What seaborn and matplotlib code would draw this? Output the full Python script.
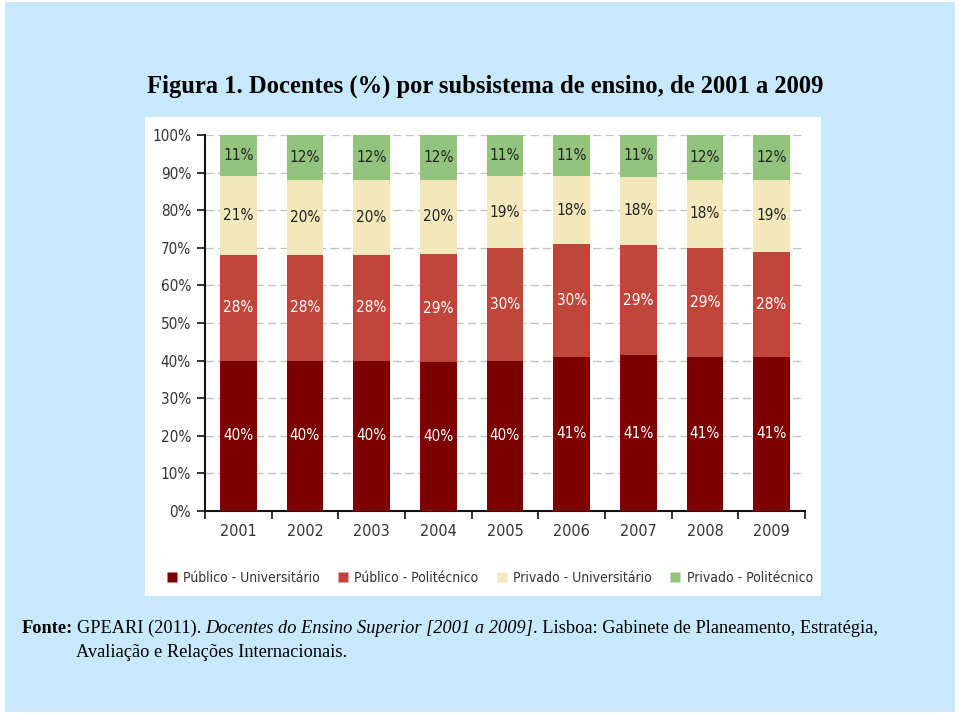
import numpy as np
import pandas as pd
import matplotlib
matplotlib.use("Agg")
import matplotlib.pyplot as plt
from matplotlib.patches import Rectangle
from matplotlib.lines import Line2D
import seaborn as sns

# ---- data ----
years = ["2001", "2002", "2003", "2004", "2005", "2006", "2007", "2008", "2009"]
series_names = ["Público - Universitário", "Público - Politécnico",
                "Privado - Universitário", "Privado - Politécnico"]
publico_univ = [40, 40, 40, 40, 40, 41, 41, 41, 41]
publico_poli = [28, 28, 28, 29, 30, 30, 29, 29, 28]
privado_univ = [21, 20, 20, 20, 19, 18, 18, 18, 19]
privado_poli = [11, 12, 12, 12, 11, 11, 11, 12, 12]
yticks = [0, 10, 20, 30, 40, 50, 60, 70, 80, 90, 100]

colors = ["#7d0000", "#c0463b", "#f3e8bc", "#93c47d"]
label_colors = ["white", "white", "#222222", "#222222"]

sns.set_theme(style="white")
plt.rcParams["font.family"] = ["DejaVu Sans"]

W, H = 960, 716
fig = plt.figure(figsize=(W / 100, H / 100), dpi=100)
fig.patch.set_facecolor("white")

def px(x, y):
    return x / W, 1 - y / H

# light blue slide background
fig.patches.append(Rectangle(px(5, 712), 950 / W, 710 / H, transform=fig.transFigure,
                             facecolor="#c8e9fc", edgecolor="none", zorder=-20))
# white chart panel
fig.patches.append(Rectangle(px(145, 596), 676 / W, 479 / H, transform=fig.transFigure,
                             facecolor="white", edgecolor="none", zorder=-10))

# axes
x0, x1 = 205, 805
ytop, ybot = 135, 511
ax = fig.add_axes([x0 / W, 1 - ybot / H, (x1 - x0) / W, (ybot - ytop) / H])
ax.set_facecolor("none")

vals = np.array([publico_univ, publico_poli, privado_univ, privado_poli], dtype=float)
shares = vals / vals.sum(axis=0) * 100
cum = np.cumsum(shares, axis=0)

# draw from total down so the segments stack
for i in range(3, -1, -1):
    df = pd.DataFrame({"ano": years, "valor": cum[i]})
    sns.barplot(data=df, x="ano", y="valor", color=colors[i], saturation=1,
                width=0.55, ax=ax, zorder=3, edgecolor="none")

# segment labels
for i in range(4):
    for j in range(len(years)):
        bottom = cum[i][j] - shares[i][j]
        ax.text(j, bottom + shares[i][j] / 2, f"{vals[i][j]:.0f}%",
                ha="center", va="center", fontsize=11, color=label_colors[i],
                fontstretch="condensed", zorder=5)

ax.set_xlim(-0.5, len(years) - 0.5)
ax.set_ylim(0, 100)
ax.set_yticks(yticks)
ax.set_yticklabels([f"{v}%" for v in yticks], fontsize=11, color="#333333",
                   fontstretch="condensed")
ax.set_xticks(range(len(years)))
ax.set_xticklabels(years, fontsize=11.5, color="#333333", fontstretch="condensed")
ax.tick_params(axis="x", which="major", length=0, pad=9)
ax.set_xticks(np.arange(-0.5, len(years), 1.0), minor=True)
ax.tick_params(axis="x", which="minor", length=6, width=1.2, color="#111111",
               direction="out", bottom=True)
ax.tick_params(axis="y", which="major", length=6, width=1.2, color="#111111",
               direction="out", left=True, pad=4)
ax.set_xlabel("")
ax.set_ylabel("")
ax.yaxis.grid(True, linestyle=(0, (6, 3)), color="#c4c4c4", linewidth=1.0, zorder=0)
ax.set_axisbelow(True)
for s in ["top", "right"]:
    ax.spines[s].set_visible(False)
for s in ["left", "bottom"]:
    ax.spines[s].set_color("#111111")
    ax.spines[s].set_linewidth(1.5)

# legend
handles = [Line2D([0], [0], marker="s", linestyle="none", markersize=7,
                  markerfacecolor=c, markeredgecolor="none") for c in colors]
fig.legend(handles, series_names, loc="center", bbox_to_anchor=(488 / W, 1 - 578 / H),
           ncol=4, frameon=False, handletextpad=0.2, columnspacing=1.1,
           handlelength=1.2, labelcolor="#333333",
           prop={"size": 10, "stretch": "condensed"})

# title
fig.text(147 / W, 1 - 93 / H, "Figura 1. Docentes (%) por subsistema de ensino, de 2001 a 2009",
         fontsize=17.7, fontweight="bold", family="Liberation Serif", ha="left",
         va="baseline", color="black")

# footer with mixed styles
fig.canvas.draw()
renderer = fig.canvas.get_renderer()

def place(parts, x_px, y_px, size=13.2):
    x = x_px
    for s, kw, gap in parts:
        t = fig.text(x / W, 1 - y_px / H, s, family="Liberation Serif", fontsize=size,
                     va="baseline", ha="left", color="black", **kw)
        bb = t.get_window_extent(renderer)
        x += bb.width + gap

place([("Fonte:", {"fontweight": "bold"}, 4),
       ("GPEARI (2011).", {}, 4),
       ("Docentes do Ensino Superior [2001 a 2009]", {"style": "italic"}, 0),
       (". Lisboa: Gabinete de Planeamento, Estratégia,", {}, 0)], 22, 633)
place([("Avaliação e Relações Internacionais.", {}, 0)], 76, 657)

fig.savefig("out.png", dpi=100, facecolor=fig.get_facecolor())
